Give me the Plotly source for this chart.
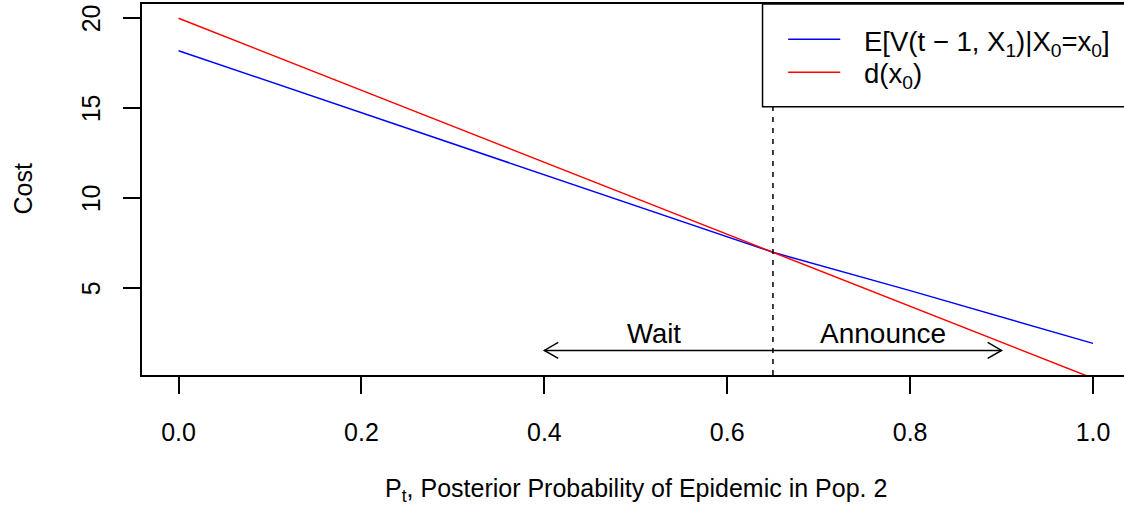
import plotly.graph_objects as go

# ---- data ----
p_vals = [0.0, 0.2, 0.4, 0.65, 0.8, 1.0]
expected_v = [18.2, 14.76, 11.32, 7.0, 4.87, 1.94]   # E[V(t-1, X1)|X0=x0]
d_x0 = [20.0, 16.0, 12.0, 7.0, 4.0, 0.0]            # d(x0)
threshold = 0.65
x_ticks = [0.0, 0.2, 0.4, 0.6, 0.8, 1.0]
x_tick_text = ["0.0", "0.2", "0.4", "0.6", "0.8", "1.0"]
y_ticks = [5, 10, 15, 20]
y_tick_text = ["5", "10", "15", "20"]
arrow_left, arrow_right, arrow_level = 0.4, 0.9, 1.55
wait_pos = (0.52, 2.5)
announce_pos = (0.77, 2.5)

W, H = 1124, 508
L, T, B = 142, 4, 133
XR = [-0.04, 1.0339]
YR = [0.183, 20.794]
FONT = "Liberation Sans, Arial, sans-serif"
FS = 25

px_per_x = (W - L) / (XR[1] - XR[0])
px_per_y = (H - T - B) / (YR[1] - YR[0])

fig = go.Figure()
fig.add_trace(go.Scatter(x=p_vals, y=expected_v, mode="lines",
                         line=dict(color="#0000ff", width=1.5), showlegend=False))
fig.add_trace(go.Scatter(x=p_vals, y=d_x0, mode="lines",
                         line=dict(color="#ff0000", width=1.5), showlegend=False))

shapes = []
# dashed threshold line
shapes.append(dict(type="line", xref="x", yref="paper", x0=threshold, x1=threshold,
                   y0=0, y1=1, line=dict(color="black", width=1.5, dash="5px,6px")))
# double arrow
shapes.append(dict(type="line", xref="x", yref="y", x0=arrow_left, x1=arrow_right,
                   y0=arrow_level, y1=arrow_level, line=dict(color="black", width=1.5)))
hx = 13.9 / px_per_x
hy = 8.0 / px_per_y
for xe, sgn in [(arrow_left, 1), (arrow_right, -1)]:
    path = (f"M {xe + sgn*hx},{arrow_level + hy} L {xe},{arrow_level} "
            f"L {xe + sgn*hx},{arrow_level - hy}")
    shapes.append(dict(type="path", xref="x", yref="y", path=path,
                       line=dict(color="black", width=1.5)))

# legend box (R style, top-right)
leg_x0 = 0.6386
leg_y0 = 15.09
shapes.append(dict(type="rect", xref="x", yref="y", x0=leg_x0, x1=1.06,
                   y0=leg_y0, y1=YR[1], line=dict(color="black", width=1.5),
                   fillcolor="white", layer="above"))
leg_rows = [(18.83, 18.62, "#0000ff",
             "E[V(t \u2212 1, X<sub>1</sub>)|X<sub>0</sub>=x<sub>0</sub>]"),
            (17.0, 16.8, "#ff0000", "d(x<sub>0</sub>)")]
annotations = []
for yv, ytxt, col, txt in leg_rows:
    shapes.append(dict(type="line", xref="x", yref="y", x0=0.6666, x1=0.7236,
                       y0=yv, y1=yv, line=dict(color=col, width=1.5), layer="above"))
    annotations.append(dict(x=0.7474, y=ytxt, xref="x", yref="y", text=txt,
                            showarrow=False, xanchor="left", yanchor="middle",
                            font=dict(family=FONT, size=27.5, color="black")))

annotations.append(dict(x=wait_pos[0], y=wait_pos[1], xref="x", yref="y", text="Wait",
                        showarrow=False, xanchor="center", yanchor="middle",
                        font=dict(family=FONT, size=27.5, color="black")))
annotations.append(dict(x=announce_pos[0], y=announce_pos[1], xref="x", yref="y",
                        text="Announce", showarrow=False, xanchor="center",
                        yanchor="middle", font=dict(family=FONT, size=28, color="black")))
# y tick labels (rotated, R style)
for yv, yt in zip(y_ticks, y_tick_text):
    annotations.append(dict(x=0, y=yv, xref="paper", yref="y", text=yt,
                            textangle=-90, showarrow=False, xanchor="center",
                            yanchor="middle", xshift=-51,
                            font=dict(family=FONT, size=FS, color="black")))
# axis titles
annotations.append(dict(x=0.5, y=0, xref="x", yref="paper",
                        text="P<sub>t</sub>, Posterior Probability of Epidemic in Pop. 2",
                        showarrow=False, xanchor="center", yanchor="middle", yshift=-115,
                        font=dict(family=FONT, size=FS, color="black")))
annotations.append(dict(x=0, y=0.5, xref="paper", yref="paper", text="Cost",
                        textangle=-90, showarrow=False, xanchor="center",
                        yanchor="middle", xshift=-120,
                        font=dict(family=FONT, size=FS, color="black")))

fig.update_layout(
    width=W, height=H,
    margin=dict(l=L, r=0, t=T, b=B, pad=0),
    plot_bgcolor="white", paper_bgcolor="white",
    shapes=shapes, annotations=annotations,
    font=dict(family=FONT, size=FS, color="black"),
    xaxis=dict(range=XR, tickmode="array", tickvals=x_ticks, ticktext=x_tick_text,
               ticks="outside", ticklen=17, tickwidth=1.5, tickcolor="black",
               showgrid=False, zeroline=False, showline=True, linecolor="black",
               linewidth=1.5, mirror=True, ticklabelstandoff=17,
               tickfont=dict(family=FONT, size=FS, color="black")),
    yaxis=dict(range=YR, tickmode="array", tickvals=y_ticks,
               ticks="outside", ticklen=17, tickwidth=1.5, tickcolor="black",
               showgrid=False, zeroline=False, showline=True, linecolor="black",
               linewidth=1.5, showticklabels=False),
)

fig.write_html("out.html")
